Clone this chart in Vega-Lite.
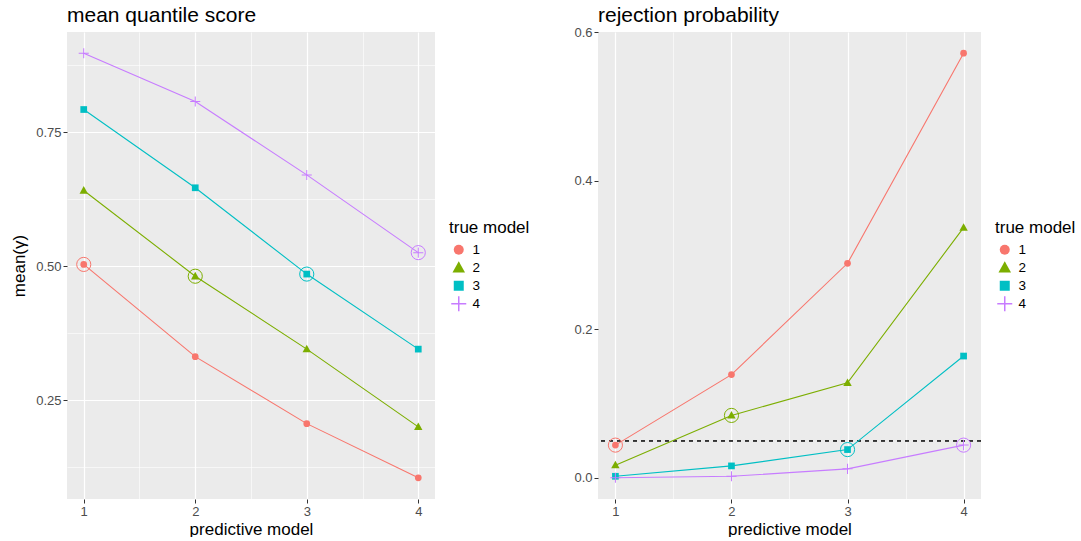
{
  "$schema": "https://vega.github.io/schema/vega-lite/v6.json",
  "background": "white",
  "padding": {"left": 10, "top": 5, "right": 0, "bottom": 0},
  "bounds": "flush",
  "data": {"values": [
    {"pred": 1, "true_model": 1, "score": 0.503, "rej": 0.044},
    {"pred": 2, "true_model": 1, "score": 0.331, "rej": 0.139},
    {"pred": 3, "true_model": 1, "score": 0.206, "rej": 0.289},
    {"pred": 4, "true_model": 1, "score": 0.105, "rej": 0.572},
    {"pred": 1, "true_model": 2, "score": 0.641, "rej": 0.017},
    {"pred": 2, "true_model": 2, "score": 0.481, "rej": 0.084},
    {"pred": 3, "true_model": 2, "score": 0.345, "rej": 0.128},
    {"pred": 4, "true_model": 2, "score": 0.200, "rej": 0.337},
    {"pred": 1, "true_model": 3, "score": 0.792, "rej": 0.002},
    {"pred": 2, "true_model": 3, "score": 0.646, "rej": 0.016},
    {"pred": 3, "true_model": 3, "score": 0.485, "rej": 0.038},
    {"pred": 4, "true_model": 3, "score": 0.345, "rej": 0.164},
    {"pred": 1, "true_model": 4, "score": 0.897, "rej": 0.000},
    {"pred": 2, "true_model": 4, "score": 0.807, "rej": 0.002},
    {"pred": 3, "true_model": 4, "score": 0.670, "rej": 0.012},
    {"pred": 4, "true_model": 4, "score": 0.525, "rej": 0.044}
  ]},
  "spacing": 163,
  "hconcat": [
    {
      "width": 368,
      "height": 467,
      "title": {"text": "mean quantile score", "offset": 6},
      "layer": [
        {
          "mark": {"type": "line", "strokeWidth": 1.1},
          "encoding": {
            "x": {"field": "pred", "type": "quantitative", "title": "predictive model",
                  "scale": {"domain": [0.85, 4.15], "nice": false, "zero": false},
                  "axis": {"values": [1, 1.5, 2, 2.5, 3, 3.5, 4],
                           "labelExpr": "datum.value % 1 != 0 ? '' : format(datum.value, 'd')",
                           "gridWidth": {"condition": {"test": "datum.value % 1 != 0", "value": 0.6}, "value": 1.2},
                           "tickOpacity": {"condition": {"test": "datum.value % 1 != 0", "value": 0}, "value": 1}}},
            "y": {"field": "score", "type": "quantitative", "title": "mean(γ)",
                  "scale": {"domain": [0.0654, 0.9366], "nice": false, "zero": false},
                  "axis": {"values": [0.125, 0.25, 0.375, 0.5, 0.625, 0.75, 0.875],
                           "labelExpr": "(datum.value * 8) % 2 == 1 ? '' : format(datum.value, '.2f')",
                           "gridWidth": {"condition": {"test": "(datum.value * 8) % 2 == 1", "value": 0.6}, "value": 1.2},
                           "tickOpacity": {"condition": {"test": "(datum.value * 8) % 2 == 1", "value": 0}, "value": 1}}},
            "stroke": {"field": "true_model", "type": "nominal", "legend": null,
                       "scale": {"range": ["#F8766D", "#7CAE00", "#00BFC4", "#C77CFF"]}}
          }
        },
        {
          "mark": {"type": "point", "filled": true, "size": 45, "opacity": 1},
          "encoding": {
            "x": {"field": "pred", "type": "quantitative"},
            "y": {"field": "score", "type": "quantitative"},
            "color": {"field": "true_model", "type": "nominal", "title": "true model",
                      "scale": {"domain": [1, 2, 3, 4], "range": ["#F8766D", "#7CAE00", "#00BFC4", "#C77CFF"]}},
            "shape": {"field": "true_model", "type": "nominal", "title": "true model",
                      "scale": {"domain": [1, 2, 3, 4], "range": ["circle", "M0,-1.3L1.25,0.95L-1.25,0.95Z", "square", "M-1.5,-0.15L-0.15,-0.15L-0.15,-1.5L0.15,-1.5L0.15,-0.15L1.5,-0.15L1.5,0.15L0.15,0.15L0.15,1.5L-0.15,1.5L-0.15,0.15L-1.5,0.15Z"]}}
          }
        },
        {
          "transform": [{"filter": "datum.true_model == datum.pred"}],
          "mark": {"type": "point", "filled": false, "shape": "circle", "size": 200, "strokeWidth": 1, "opacity": 1},
          "encoding": {
            "x": {"field": "pred", "type": "quantitative"},
            "y": {"field": "score", "type": "quantitative"},
            "stroke": {"field": "true_model", "type": "nominal", "legend": null}
          }
        }
      ]
    },
    {
      "width": 383,
      "height": 467,
      "title": {"text": "rejection probability", "offset": 0},
      "layer": [
        {
          "mark": {"type": "rule", "strokeDash": [4, 4], "color": "#333333", "strokeWidth": 0.8},
          "encoding": {"y": {"datum": 0.05, "type": "quantitative"}}
        },
        {
          "mark": {"type": "line", "strokeWidth": 1.1},
          "encoding": {
            "x": {"field": "pred", "type": "quantitative", "title": "predictive model",
                  "scale": {"domain": [0.85, 4.15], "nice": false, "zero": false},
                  "axis": {"values": [1, 1.5, 2, 2.5, 3, 3.5, 4],
                           "labelExpr": "datum.value % 1 != 0 ? '' : format(datum.value, 'd')",
                           "gridWidth": {"condition": {"test": "datum.value % 1 != 0", "value": 0.6}, "value": 1.2},
                           "tickOpacity": {"condition": {"test": "datum.value % 1 != 0", "value": 0}, "value": 1}}},
            "y": {"field": "rej", "type": "quantitative", "title": null,
                  "scale": {"domain": [-0.0286, 0.6006], "nice": false, "zero": false},
                  "axis": {"values": [0, 0.1, 0.2, 0.3, 0.4, 0.5, 0.6],
                           "labelExpr": "round(datum.value * 10) % 2 == 1 ? '' : format(datum.value, '.1f')",
                           "gridWidth": {"condition": {"test": "round(datum.value * 10) % 2 == 1", "value": 0.6}, "value": 1.2},
                           "tickOpacity": {"condition": {"test": "round(datum.value * 10) % 2 == 1", "value": 0}, "value": 1}}},
            "stroke": {"field": "true_model", "type": "nominal", "legend": null,
                       "scale": {"range": ["#F8766D", "#7CAE00", "#00BFC4", "#C77CFF"]}}
          }
        },
        {
          "mark": {"type": "point", "filled": true, "size": 45, "opacity": 1},
          "encoding": {
            "x": {"field": "pred", "type": "quantitative"},
            "y": {"field": "rej", "type": "quantitative"},
            "color": {"field": "true_model", "type": "nominal", "title": "true model",
                      "scale": {"domain": [1, 2, 3, 4], "range": ["#F8766D", "#7CAE00", "#00BFC4", "#C77CFF"]}},
            "shape": {"field": "true_model", "type": "nominal", "title": "true model",
                      "scale": {"domain": [1, 2, 3, 4], "range": ["circle", "M0,-1.3L1.25,0.95L-1.25,0.95Z", "square", "M-1.5,-0.15L-0.15,-0.15L-0.15,-1.5L0.15,-1.5L0.15,-0.15L1.5,-0.15L1.5,0.15L0.15,0.15L0.15,1.5L-0.15,1.5L-0.15,0.15L-1.5,0.15Z"]}}
          }
        },
        {
          "transform": [{"filter": "datum.true_model == datum.pred"}],
          "mark": {"type": "point", "filled": false, "shape": "circle", "size": 200, "strokeWidth": 1, "opacity": 1},
          "encoding": {
            "x": {"field": "pred", "type": "quantitative"},
            "y": {"field": "rej", "type": "quantitative"},
            "stroke": {"field": "true_model", "type": "nominal", "legend": null}
          }
        }
      ]
    }
  ],
  "resolve": {
    "scale": {"x": "independent", "y": "independent", "color": "independent", "stroke": "independent", "shape": "independent"},
    "legend": {"color": "independent", "shape": "independent"}
  },
  "config": {
    "view": {"fill": "#EBEBEB", "stroke": null},
    "axis": {
      "domain": false, "gridColor": "white", "tickColor": "#333333", "tickSize": 4, "tickWidth": 1,
      "labelColor": "#4D4D4D", "labelFontSize": 13, "labelFont": "Liberation Sans", "labelPadding": 2,
      "titleFont": "Liberation Sans", "titleFontSize": 17, "titleFontWeight": "normal", "titleColor": "black"
    },
    "axisX": {"titlePadding": 3},
    "axisY": {"titlePadding": 7},
    "title": {"font": "Liberation Sans", "fontSize": 21, "fontWeight": "normal", "anchor": "start", "frame": "group", "color": "black"},
    "legend": {
      "orient": "right", "offset": 14, "padding": 0,
      "layout": {"right": {"anchor": "middle"}},
      "titleFont": "Liberation Sans", "titleFontSize": 17, "titleFontWeight": "normal", "titleColor": "black",
      "labelFont": "Liberation Sans", "labelFontSize": 13.5, "labelColor": "black",
      "symbolOffset": 3, "labelOffset": 7,
      "rowPadding": 3, "titlePadding": 6
    }
  }
}
